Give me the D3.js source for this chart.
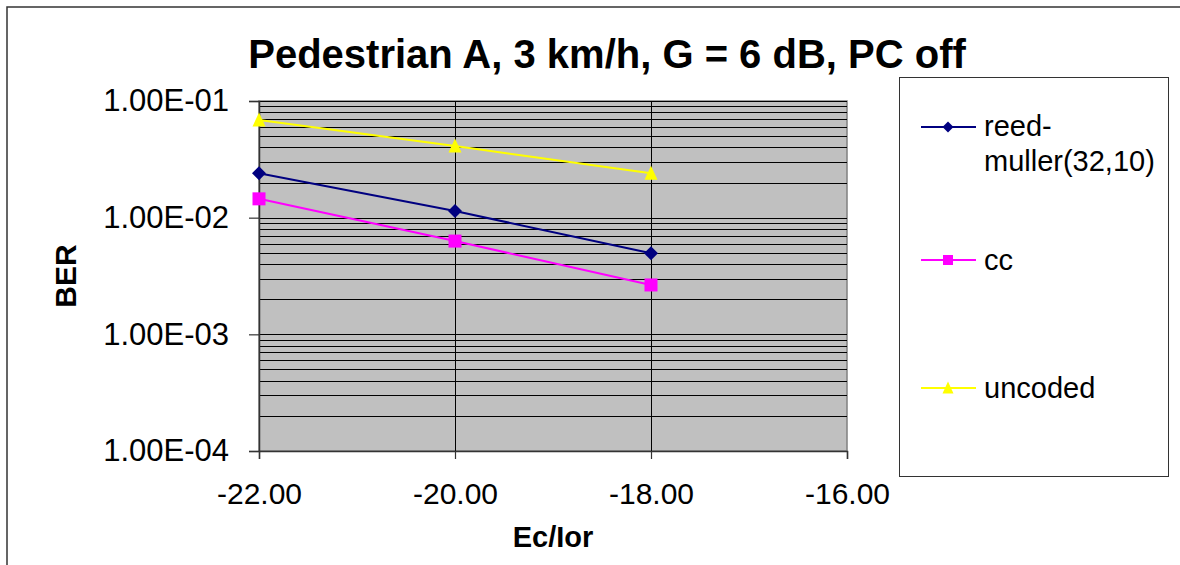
<!DOCTYPE html>
<html>
<head>
<meta charset="utf-8">
<script src="https://d3js.org/d3.v7.min.js"></script>
<style>
  html, body { margin: 0; padding: 0; background: #fff; }
  svg { display: block; font-family: "Liberation Sans", Arial, sans-serif; }
</style>
</head>
<body>
<script>
// ---- data ----
const xValues = [-22, -20, -18];
const reedMuller = [0.024, 0.0114, 0.00495];
const ccValues = [0.0145, 0.0063, 0.00265];
const uncoded = [0.0687, 0.0411, 0.024];
const seriesNames = ["reed-muller(32,10)", "cc", "uncoded"];
const xTicks = [-22, -20, -18, -16];
const yTicks = [1e-4, 1e-3, 1e-2, 1e-1];
const yTickLabels = ["1.00E-04", "1.00E-03", "1.00E-02", "1.00E-01"];
const titleText = "Pedestrian A, 3 km/h, G = 6 dB, PC off";
const xTitle = "Ec/Ior";
const yTitle = "BER";

const W = 1180, H = 565;
const plot = { left: 259, top: 101, right: 847, bottom: 451 };

const svg = d3.select("body").append("svg").attr("width", W).attr("height", H);

// marker path builders (w = full width in px)
function markerPath(kind, w) {
  const r = w / 2;
  if (kind === "diamond") return `M0,${-r}L${r},0L0,${r}L${-r},0Z`;
  if (kind === "square") return `M${-r},${-r}H${r}V${r}H${-r}Z`;
  return `M0,${-r - 1}L${r},${r}L${-r},${r}Z`;
}

// outer chart border
svg.append("rect").attr("x", 7).attr("y", 7).attr("width", W + 20).attr("height", H + 20)
  .attr("fill", "#fff").attr("stroke", "#333").attr("stroke-width", 1.5);

const x = d3.scaleLinear().domain([-22, -16]).range([plot.left, plot.right]);
const y = d3.scaleLog().domain([1e-4, 1e-1]).range([plot.bottom, plot.top]);

// plot background
svg.append("rect").attr("x", plot.left).attr("y", plot.top)
  .attr("width", plot.right - plot.left).attr("height", plot.bottom - plot.top)
  .attr("fill", "#C0C0C0").attr("stroke", "#808080").attr("stroke-width", 1.5);

// horizontal gridlines at every log tick
const gridY = y.ticks().filter(v => v > 1e-4 && v <= 1e-1);
svg.append("g").selectAll("line").data(gridY).join("line")
  .attr("x1", plot.left).attr("x2", plot.right)
  .attr("y1", d => Math.round(y(d)) + 0.5).attr("y2", d => Math.round(y(d)) + 0.5)
  .attr("stroke", "#000").attr("stroke-width", 1);

// vertical gridlines
svg.append("g").selectAll("line").data(xTicks.filter(v => v > -22 && v < -16)).join("line")
  .attr("x1", d => Math.round(x(d)) + 0.5).attr("x2", d => Math.round(x(d)) + 0.5)
  .attr("y1", plot.top).attr("y2", plot.bottom)
  .attr("stroke", "#000").attr("stroke-width", 1);

// y axis
const yAxis = d3.axisLeft(y).tickValues(yTicks)
  .tickFormat((d, i) => yTickLabels[i]).tickSize(10).tickPadding(20);
const gy = svg.append("g").attr("transform", `translate(${plot.left},0)`).call(yAxis);
gy.select(".domain").attr("stroke", "#333").attr("stroke-width", 1.5);
gy.selectAll(".tick line").attr("stroke", "#333").attr("stroke-width", 1.2);
gy.selectAll(".tick text").attr("font-size", 31).attr("fill", "#000")
  .attr("font-family", "'Liberation Sans', Arial, sans-serif");

// x axis
const xAxis = d3.axisBottom(x).tickValues(xTicks)
  .tickFormat(d => d3.format(".2f")(d).replace("−", "-")).tickSize(8).tickPadding(24);
const gx = svg.append("g").attr("transform", `translate(0,${plot.bottom})`).call(xAxis);
gx.select(".domain").attr("stroke", "#333").attr("stroke-width", 1.5);
gx.selectAll(".tick line").attr("stroke", "#333").attr("stroke-width", 1.2);
gx.selectAll(".tick text").attr("font-size", 30).attr("fill", "#000")
  .attr("font-family", "'Liberation Sans', Arial, sans-serif");

// titles
svg.append("text").attr("x", 607).attr("y", 68).attr("text-anchor", "middle")
  .attr("font-size", 40).attr("font-weight", "bold").text(titleText);
svg.append("text").attr("x", 553).attr("y", 547).attr("text-anchor", "middle")
  .attr("font-size", 29).attr("font-weight", "bold").text(xTitle);
svg.append("text").attr("transform", `translate(76,${(plot.top + plot.bottom) / 2}) rotate(-90)`)
  .attr("text-anchor", "middle").attr("font-size", 30).attr("font-weight", "bold").text(yTitle);

// series
const series = [
  { name: seriesNames[0], values: reedMuller, color: "#000080", marker: "diamond", size: 14, lsize: 11 },
  { name: seriesNames[1], values: ccValues, color: "#FF00FF", marker: "square", size: 13, lsize: 10 },
  { name: seriesNames[2], values: uncoded, color: "#FFFF00", marker: "triangle", size: 13, lsize: 11 }
];

const line = d3.line().x(d => x(d[0])).y(d => y(d[1]));
series.forEach(s => {
  const pts = xValues.map((xv, i) => [xv, s.values[i]]);
  svg.append("path").datum(pts).attr("d", line).attr("fill", "none")
    .attr("stroke", s.color).attr("stroke-width", 2);
  svg.append("g").selectAll("path").data(pts).join("path")
    .attr("transform", d => `translate(${x(d[0])},${y(d[1])})`)
    .attr("d", markerPath(s.marker, s.size)).attr("fill", s.color);
});

// legend
svg.append("rect").attr("x", 899.5).attr("y", 77.5).attr("width", 269).attr("height", 399)
  .attr("fill", "#fff").attr("stroke", "#333").attr("stroke-width", 1);
const legendY = [127, 260, 388];
series.forEach((s, i) => {
  const g = svg.append("g");
  g.append("line").attr("x1", 921).attr("x2", 976).attr("y1", legendY[i]).attr("y2", legendY[i])
    .attr("stroke", s.color).attr("stroke-width", 2);
  g.append("path").attr("transform", `translate(948,${legendY[i]})`)
    .attr("d", markerPath(s.marker, s.lsize)).attr("fill", s.color);
  if (i === 0) {
    const t = g.append("text").attr("x", 984).attr("y", legendY[i] + 9).attr("font-size", 29);
    t.append("tspan").attr("x", 984).text("reed-");
    t.append("tspan").attr("x", 984).attr("dy", 35).text("muller(32,10)");
  } else {
    g.append("text").attr("x", 984).attr("y", legendY[i] + 10).attr("font-size", 29).text(s.name);
  }
});
</script>
</body>
</html>
